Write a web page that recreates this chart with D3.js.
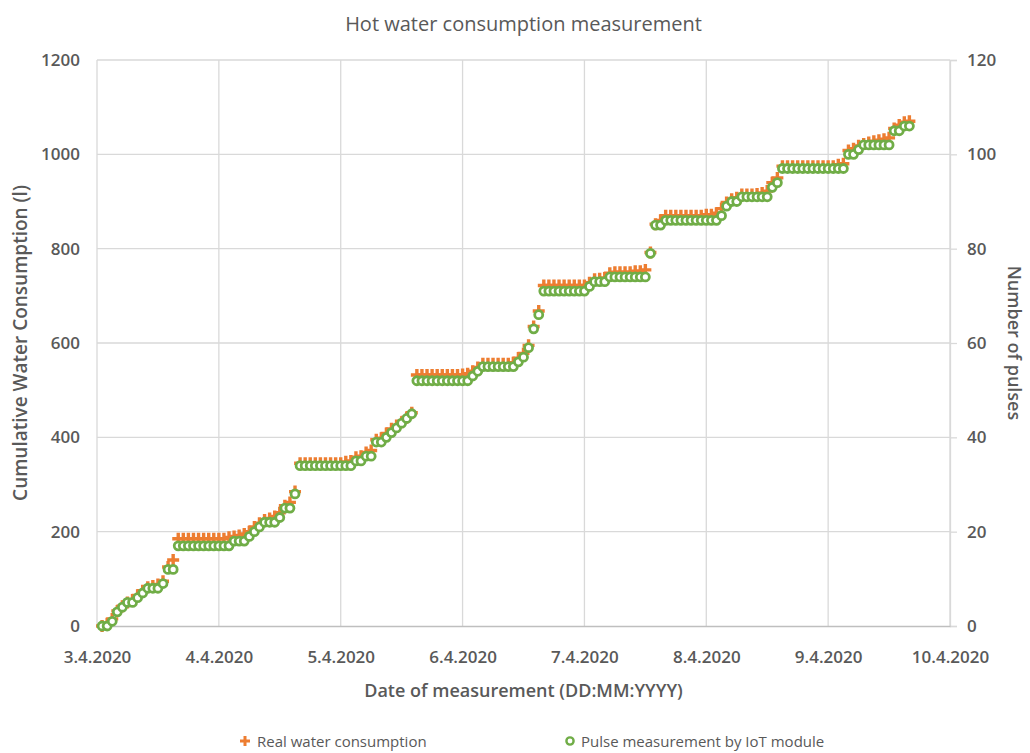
<!DOCTYPE html>
<html>
<head>
<meta charset="utf-8">
<script src="https://cdn.jsdelivr.net/npm/d3@7"></script>
<style>
  body { margin: 0; background: #fff; }
  .chart text { font-family: "Open Sans", sans-serif; fill: #595959; }
</style>
</head>
<body>
<div class="chart"></div>
<script>
// day labels on the x axis, one every 24 hours
const dayLabels = ['3.4.2020', '4.4.2020', '5.4.2020', '6.4.2020', '7.4.2020', '8.4.2020', '9.4.2020', '10.4.2020']

// hourly samples, hour 1 .. 160 after 3.4.2020 00:00
const pulseCount = [
    0, 0, 1, 3, 4, 5, 5, 6, 7, 8,
    8, 8, 9, 12, 12, 17, 17, 17, 17, 17,
    17, 17, 17, 17, 17, 17, 18, 18, 18, 19,
    20, 21, 22, 22, 22, 23, 25, 25, 28, 34,
    34, 34, 34, 34, 34, 34, 34, 34, 34, 34,
    35, 35, 36, 36, 39, 39, 40, 41, 42, 43,
    44, 45, 52, 52, 52, 52, 52, 52, 52, 52,
    52, 52, 52, 53, 54, 55, 55, 55, 55, 55,
    55, 55, 56, 57, 59, 63, 66, 71, 71, 71,
    71, 71, 71, 71, 71, 71, 72, 73, 73, 73,
    74, 74, 74, 74, 74, 74, 74, 74, 79, 85,
    85, 86, 86, 86, 86, 86, 86, 86, 86, 86,
    86, 86, 87, 89, 90, 90, 91, 91, 91, 91,
    91, 91, 93, 94, 97, 97, 97, 97, 97, 97,
    97, 97, 97, 97, 97, 97, 97, 100, 100, 101,
    102, 102, 102, 102, 102, 102, 105, 105, 106, 106
]

const realLitres = [
    0, 5, 15, 32, 42, 50, 55, 65, 75, 82,
    85, 88, 95, 125, 140, 185, 185, 185, 185, 185,
    185, 185, 185, 185, 185, 188, 190, 192, 195, 200,
    210, 218, 225, 228, 232, 240, 255, 262, 285, 345,
    345, 345, 345, 345, 345, 345, 345, 345, 348, 350,
    358, 360, 368, 372, 395, 398, 408, 418, 425, 432,
    442, 452, 532, 532, 532, 532, 532, 532, 532, 532,
    532, 533, 535, 540, 548, 556, 556, 556, 556, 556,
    556, 558, 568, 578, 595, 635, 668, 722, 722, 722,
    722, 722, 722, 722, 722, 722, 728, 735, 736, 738,
    748, 750, 750, 750, 750, 752, 752, 755, 792, 852,
    860, 870, 870, 870, 870, 870, 870, 870, 870, 872,
    872, 875, 885, 898, 905, 908, 915, 915, 915, 916,
    918, 922, 940, 950, 975, 975, 975, 975, 975, 975,
    975, 975, 975, 975, 975, 978, 980, 1008, 1012, 1018,
    1022, 1025, 1028, 1030, 1032, 1035, 1055, 1062, 1068, 1070
]

const leftTicks = [0, 200, 400, 600, 800, 1000, 1200]
const rightTicks = [0, 20, 40, 60, 80, 100, 120]

const ORANGE = '#ed7d31'
const GREEN = '#70ad47'

class ConsumptionChart {

    constructor() {
        this.fullWidth = 1030
        this.fullHeight = 753
        this.margin = {top: 60, right: 80, bottom: 127, left: 97}
        this.width = this.fullWidth - this.margin.left - this.margin.right
        this.height = this.fullHeight - this.margin.top - this.margin.bottom
    }

    render() {
        this.svg = d3.select('.chart').append('svg')
            .attr('width', this.fullWidth)
            .attr('height', this.fullHeight)
        this.canvas = this.svg.append('g')
            .attr('transform', `translate(${this.margin.left}, ${this.margin.top})`)
        this.createScales()
        this.createGrid()
        this.createAxes()
        this.createSeries()
        this.createTitles()
        this.createLegend()
    }

    createScales() {
        this.xScale = d3.scaleLinear().domain([0, 24 * (dayLabels.length - 1)]).range([0, this.width])
        this.yLeft = d3.scaleLinear().domain([0, 1200]).range([this.height, 0])
        this.yRight = d3.scaleLinear().domain([0, 120]).range([this.height, 0])
    }

    createGrid() {
        this.canvas.append('g')
            .selectAll('line.h')
            .data(leftTicks.slice(1))
            .join('line')
                .attr('x1', 0).attr('x2', this.width)
                .attr('y1', d => this.yLeft(d)).attr('y2', d => this.yLeft(d))
                .attr('stroke', '#d9d9d9').attr('stroke-width', 1.3)

        this.canvas.append('g')
            .selectAll('line.v')
            .data(dayLabels.map((d, i) => i * 24))
            .join('line')
                .attr('x1', d => this.xScale(d)).attr('x2', d => this.xScale(d))
                .attr('y1', 0).attr('y2', this.height)
                .attr('stroke', '#d9d9d9').attr('stroke-width', 1.3)
    }

    createAxes() {
        let yAxisLeft = d3.axisLeft(this.yLeft).tickValues(leftTicks)
            .tickFormat(d3.format('d')).tickSize(0).tickPadding(17)
        let gl = this.canvas.append('g').call(yAxisLeft)
        gl.select('.domain').remove()

        let yAxisRight = d3.axisRight(this.yRight).tickValues(rightTicks).tickSize(7).tickPadding(10)
        let gr = this.canvas.append('g')
            .attr('transform', `translate(${this.width}, 0)`)
            .call(yAxisRight)
        gr.select('.domain').attr('stroke', '#d9d9d9').attr('stroke-width', 1.3)
        gr.selectAll('.tick line').attr('stroke', '#d9d9d9').attr('stroke-width', 1.3)

        let xAxis = d3.axisBottom(this.xScale)
            .tickValues(dayLabels.map((d, i) => i * 24))
            .tickFormat((d, i) => dayLabels[i])
            .tickSize(0).tickPadding(25)
        let gx = this.canvas.append('g')
            .attr('transform', `translate(0, ${this.height})`)
            .call(xAxis)
        gx.select('.domain').attr('stroke', '#bfbfbf').attr('stroke-width', 1.5)

        this.canvas.selectAll('.tick text')
            .style('font-family', '"Open Sans", sans-serif')
            .style('font-size', '17px')
            .style('font-weight', 600)
            .attr('fill', '#595959')
    }

    createSeries() {
        let plus = 'M-6,0H6M0,-6V6'
        this.canvas.append('g')
            .selectAll('path')
            .data(realLitres)
            .join('path')
                .attr('d', plus)
                .attr('transform', (d, i) => `translate(${this.xScale(i + 1)}, ${this.yLeft(d)})`)
                .attr('stroke', ORANGE)
                .attr('stroke-width', 3.4)
                .attr('fill', 'none')

        this.canvas.append('g')
            .selectAll('circle')
            .data(pulseCount)
            .join('circle')
                .attr('cx', (d, i) => this.xScale(i + 1))
                .attr('cy', d => this.yRight(d))
                .attr('r', 4)
                .attr('fill', '#fff')
                .attr('stroke', GREEN)
                .attr('stroke-width', 2.8)
    }

    createTitles() {
        let cx = this.margin.left + this.width / 2
        let cy = this.margin.top + this.height / 2

        this.svg.append('text')
            .attr('x', cx).attr('y', 31)
            .attr('text-anchor', 'middle')
            .style('font-size', '20px')
            .text('Hot water consumption measurement')

        this.svg.append('text')
            .attr('x', cx).attr('y', 697)
            .attr('text-anchor', 'middle')
            .style('font-size', '18px').style('font-weight', 600)
            .text('Date of measurement (DD:MM:YYYY)')

        this.svg.append('text')
            .attr('transform', `translate(27, ${cy}) rotate(-90)`)
            .attr('text-anchor', 'middle')
            .style('font-size', '19px').style('font-weight', 600)
            .text('Cumulative Water Consumption (l)')

        this.svg.append('text')
            .attr('transform', `translate(1008, ${cy}) rotate(90)`)
            .attr('text-anchor', 'middle')
            .style('font-size', '18px').style('font-weight', 600)
            .text('Number of pulses')
    }

    createLegend() {
        let legend = this.svg.append('g').attr('transform', 'translate(0, 742)')

        legend.append('path')
            .attr('d', 'M-5,0H5M0,-5V5')
            .attr('transform', 'translate(245, -1)')
            .attr('stroke', ORANGE).attr('stroke-width', 3)
        legend.append('text')
            .attr('x', 257).attr('y', 5)
            .style('font-size', '15px')
            .text('Real water consumption')

        legend.append('circle')
            .attr('cx', 570).attr('cy', -1).attr('r', 3.6)
            .attr('fill', '#fff').attr('stroke', GREEN).attr('stroke-width', 2.4)
        legend.append('text')
            .attr('x', 581).attr('y', 5)
            .style('font-size', '15px')
            .text('Pulse measurement by IoT module')
    }

}

new ConsumptionChart().render()
</script>
</body>
</html>
